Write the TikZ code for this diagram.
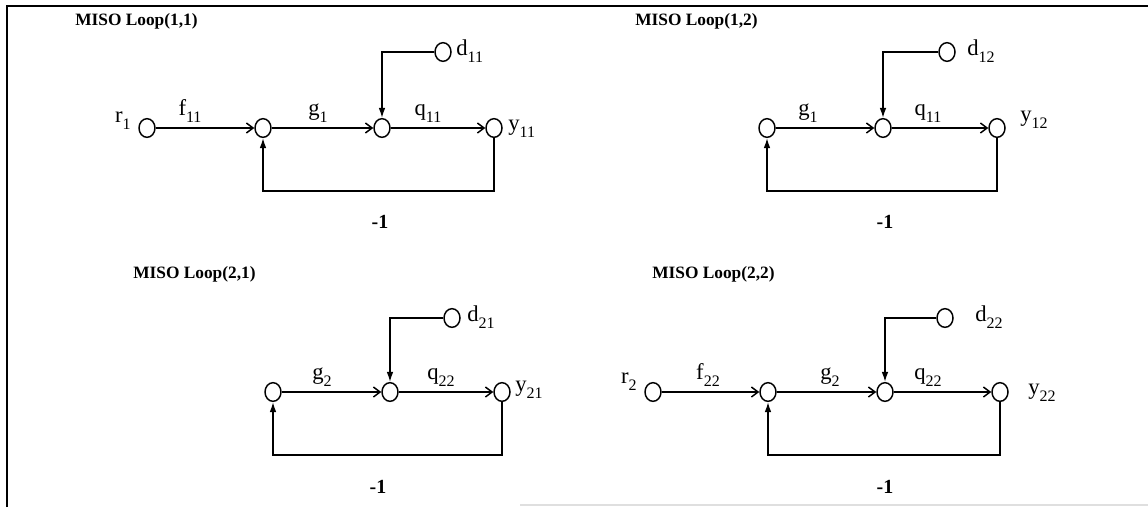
\documentclass[tikz,border=0pt]{standalone}
\usepackage{fontspec}
\setmainfont{Liberation Serif}
\usetikzlibrary{arrows.meta,shapes.geometric}

\newcommand{\lbl}[2]{#1\raisebox{-5.5pt}{\fontsize{12}{12}\selectfont#2}}

\tikzset{
    pnode/.style={draw, ellipse, line width=1.1pt, minimum width=12pt, minimum height=14pt, inner sep=0pt},
    sig/.style={line width=1.1pt, -{Straight Barb[length=5pt, width=7.5pt, line width=1.1pt]}},
    inj/.style={line width=1.1pt, -{Latex[length=7.5pt, width=5pt]}},
    gain/.style={font=\fontsize{17}{17}\selectfont, inner sep=0pt, anchor=base},
    looptitle/.style={font=\fontsize{13}{13}\selectfont\bfseries, anchor=base west, inner sep=0pt},
    minus/.style={font=\fontsize{15}{15}\selectfont\bfseries, inner sep=0pt, anchor=base}
}

\begin{document}
\begin{tikzpicture}[x=0.75pt, y=-0.75pt]
    \useasboundingbox (0,0) rectangle (1148,507);

    \draw[line width=1.4pt] (7,507) -- (7,6) -- (1148,6);
    \draw[gray!25, line width=0.8pt] (520,505) -- (1148,505);

    % MISO Loop(1,1)
    \node[looptitle] (t11) at (75,25) {MISO Loop(1,1)};
    \node[pnode] (r1) at (147,128) {};
    \node[pnode] (s11a) at (263,128) {};
    \node[pnode] (s11b) at (382,128) {};
    \node[pnode] (y11) at (494,128) {};
    \node[pnode] (d11) at (443,52) {};

    \draw[sig] (r1) -- (s11a);
    \draw[sig] (s11a) -- (s11b);
    \draw[sig] (s11b) -- (y11);
    \draw[inj] (d11) -| (s11b);
    \draw[inj] (y11) -- ++(0,63) -| (s11a);

    \node[gain, anchor=base east] (lr1) at (131,122) {\lbl{r}{1}};
    \node[gain] (lf11) at (190,115) {\lbl{f}{11}};
    \node[gain] (lg11) at (318,115) {\lbl{g}{1}};
    \node[gain] (lq11) at (428,115) {\lbl{q}{11}};
    \node[gain, anchor=base west] (ld11) at (456,55) {\lbl{d}{11}};
    \node[gain, anchor=base west] (ly11) at (508,130) {\lbl{y}{11}};
    \node[minus] (m11) at (380,228) {-1};

    % MISO Loop(1,2)
    \node[looptitle] (t12) at (635,25) {MISO Loop(1,2)};
    \node[pnode] (s12a) at (767,128) {};
    \node[pnode] (s12b) at (883,128) {};
    \node[pnode] (y12) at (997,128) {};
    \node[pnode] (d12) at (947,52) {};

    \draw[sig] (s12a) -- (s12b);
    \draw[sig] (s12b) -- (y12);
    \draw[inj] (d12) -| (s12b);
    \draw[inj] (y12) -- ++(0,63) -| (s12a);

    \node[gain] (lg12) at (808,115) {\lbl{g}{1}};
    \node[gain] (lq12) at (928,115) {\lbl{q}{11}};
    \node[gain, anchor=base west] (ld12) at (967,55) {\lbl{d}{12}};
    \node[gain, anchor=base west] (ly12) at (1020,121) {\lbl{y}{12}};
    \node[minus] (m12) at (885,228) {-1};

    % MISO Loop(2,1)
    \node[looptitle] (t21) at (133,278) {MISO Loop(2,1)};
    \node[pnode] (s21a) at (273,392) {};
    \node[pnode] (s21b) at (390,392) {};
    \node[pnode] (y21) at (502,392) {};
    \node[pnode] (d21) at (452,318) {};

    \draw[sig] (s21a) -- (s21b);
    \draw[sig] (s21b) -- (y21);
    \draw[inj] (d21) -| (s21b);
    \draw[inj] (y21) -- ++(0,63) -| (s21a);

    \node[gain] (lg21) at (322,379) {\lbl{g}{2}};
    \node[gain] (lq21) at (441,379) {\lbl{q}{22}};
    \node[gain, anchor=base west] (ld21) at (467,321) {\lbl{d}{21}};
    \node[gain, anchor=base west] (ly21) at (515,391) {\lbl{y}{21}};
    \node[minus] (m21) at (378,493) {-1};

    % MISO Loop(2,2)
    \node[looptitle] (t22) at (652,278) {MISO Loop(2,2)};
    \node[pnode] (r2) at (653,392) {};
    \node[pnode] (s22a) at (768,392) {};
    \node[pnode] (s22b) at (885,392) {};
    \node[pnode] (y22) at (1000,392) {};
    \node[pnode] (d22) at (945,318) {};

    \draw[sig] (r2) -- (s22a);
    \draw[sig] (s22a) -- (s22b);
    \draw[sig] (s22b) -- (y22);
    \draw[inj] (d22) -| (s22b);
    \draw[inj] (y22) -- ++(0,63) -| (s22a);

    \node[gain, anchor=base east] (lr2) at (637,383) {\lbl{r}{2}};
    \node[gain] (lf22) at (708,379) {\lbl{f}{22}};
    \node[gain] (lg22) at (830,379) {\lbl{g}{2}};
    \node[gain] (lq22) at (928,379) {\lbl{q}{22}};
    \node[gain, anchor=base west] (ld22) at (975,321) {\lbl{d}{22}};
    \node[gain, anchor=base west] (ly22) at (1028,394) {\lbl{y}{22}};
    \node[minus] (m22) at (885,493) {-1};
\end{tikzpicture}
\end{document}
